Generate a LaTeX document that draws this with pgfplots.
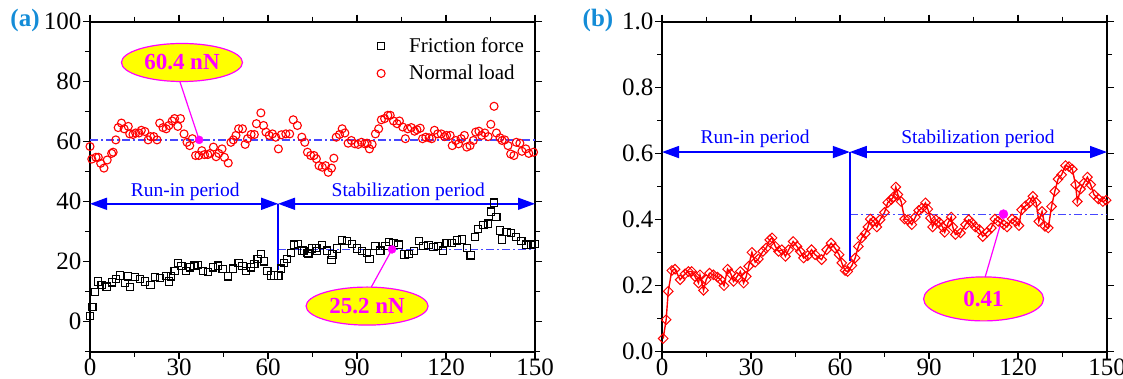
\documentclass[border=0pt]{standalone}
\usepackage{fontspec}
\setmainfont{Liberation Serif}
\usepackage{pgfplots}
\pgfplotsset{compat=1.18}
\usetikzlibrary{arrows.meta,shapes.geometric}

\definecolor{ablue}{RGB}{0,0,255}
\definecolor{dblue}{RGB}{70,70,255}
\definecolor{mag}{RGB}{255,0,255}
\definecolor{lbl}{RGB}{20,140,215}
\definecolor{yel}{RGB}{255,255,0}

\pgfplotsset{
 myaxis/.style={
  scale only axis, width=445pt, height=330pt, anchor=south west,
  xmin=0, xmax=150, xtick={0,30,...,150}, minor xtick={15,45,...,135},
  tick align=outside, tick pos=both, xticklabel pos=lower, yticklabel pos=left,
  major tick length=7pt, minor tick length=5pt,
  axis line style={line width=2pt},
  tick style={line width=1.5pt, black},
  ticklabel style={font=\fontsize{25}{29}\selectfont, inner sep=1.5pt},
  xticklabel style={yshift=1.5pt},
  /pgf/number format/assume math mode=true,
 },
 dd/.style={dblue, line width=1.5pt, dash pattern=on 8pt off 3pt on 2pt off 3pt},
}
\tikzset{
 arr/.style={ablue, line width=1.6pt, {Triangle[length=17pt,width=12pt]}-{Triangle[length=17pt,width=12pt]}},
 atxt/.style={ablue, anchor=base, font=\fontsize{19.5}{22}\selectfont},
 ell/.style={ellipse, draw=mag, fill=yel, line width=1.2pt, inner sep=0pt, text=mag, font=\fontsize{23}{27}\selectfont\bfseries},
}

\begin{document}
\begin{tikzpicture}
\useasboundingbox (0,0) rectangle (1123pt,379pt);

% ---------------- (a) ----------------
\begin{axis}[myaxis, at={(90pt,27.3pt)},
  ymin=-10, ymax=100, ytick={0,20,...,100}, minor ytick={-10,10,...,90},
  legend style={draw=none, fill=none, at={(0.638,0.963)}, anchor=north west,
    font=\fontsize{21}{25}\selectfont, row sep=7pt},
  legend cell align=left,
  legend image code/.code={\path[#1] plot coordinates {(0pt,0pt)}; \path[draw=none, fill=none] (-4pt,0pt) -- (26pt,0pt);}]
\addplot[only marks, mark=square, mark size=3.6pt, black, mark options={line width=1.1pt}] coordinates {
(0,2)(0.8,5)(1.7,9.8)(2.8,13.4)(3.9,12.3)(5.6,11.7)(7.3,13.1)(8.7,14.3)(10,15.4)(11.7,12.9)(12.9,15.1)(13.4,11.5)(15.1,14.8)(16.8,14.3)(18.5,13.4)(20.4,12.3)(21.8,14.8)(23.5,14.5)(25.7,15.3)(26.6,13.4)(27.4,15.1)(28.5,17)(29.6,19.6)(30.8,18.5)(32.4,17)(33.6,18.1)(35.2,18.7)(36.3,18.8)(38,16.8)(39.7,16.5)(41.4,18.1)(43.1,18.7)(44.7,17.6)(46.4,15.1)(48.1,17.7)(50.1,19.6)(51.4,18.5)(52.6,17)(54.3,18.1)(55.4,19.2)(56.5,21)(57.6,22.6)(58.7,20.1)(59.8,16.8)(61,15.4)(62.1,15.4)(63.5,15.4)(64.3,17.7)(65.4,19.6)(66.5,21)(67.7,22.9)(68.8,25.7)(70.2,25.9)(71.6,23.7)(72.1,23.5)(73.3,22.9)(73.6,22.6)(74.9,24.4)(76.3,24.6)(76.6,23.5)(78.3,25.5)(80,23.7)(81.4,20.5)(81.7,22.4)(83.3,24.4)(85,27.1)(86.7,26.8)(88.4,25.9)(90,24.4)(91.7,23.5)(93.4,22.9)(94.2,21)(96.2,25.2)(97.9,23.7)(99.6,25.2)(100.7,26.6)(102.3,26.3)(104,25.7)(106,22.4)(107.4,22.6)(109.1,23.5)(111,26.8)(112.4,25.2)(114.1,25.5)(115.8,24.8)(117.4,25.2)(119.1,23.7)(120.2,26.3)(121.9,26.3)(123.6,27.1)(125.3,27.4)(127,24.6)(128.3,22.1)(129.7,28.2)(130.9,30.8)(132.6,32.2)(134.2,32.7)(135.1,36.7)(136.2,39.7)(137,34.9)(138.1,30.4)(138.9,27.4)(140.4,30)(142,29.6)(143.7,28.2)(145.4,26.8)(147.1,25.7)(148.8,25.5)(150,25.8)
};
\addlegendentry{Friction force}
\addplot[only marks, mark=o, mark size=4pt, red, mark options={line width=1.1pt}] coordinates {
(0,58.4)(0.6,54.2)(2,54.8)(2.8,54.8)(3.6,52.8)(4.7,51.2)(5.8,53.9)(7.3,56.1)(7.8,56.5)(8.7,60.6)(9.5,64.7)(10.6,66.2)(11.5,64.3)(12.9,65.1)(13.4,62.6)(14.5,62.4)(15.4,62.9)(16.5,62.9)(17.3,63.8)(18.5,63.4)(19.6,60.6)(20.4,61.7)(21.5,61.7)(22.6,60.6)(23.5,66.2)(24.6,64.7)(25.7,64.3)(26.6,65.4)(27.7,66.9)(28.5,67.7)(29.6,65.1)(30.5,67.7)(31.7,62.6)(32.7,59.8)(33.6,58.7)(34.5,61)(35.6,55.4)(36.7,55.4)(37.7,57)(38.6,55.7)(39.7,55.7)(40.5,56.1)(41.6,58.2)(42.5,55)(43.4,56.1)(44.5,57.6)(45.3,54.8)(46.6,52.9)(47.5,59.8)(48.3,60.6)(49.2,62.1)(50.1,64.3)(51.4,64.3)(52.3,59.1)(53.1,61)(54.3,62.4)(55.4,62.4)(56.1,66)(57.6,69.6)(58.5,65.4)(59.3,63.2)(60.4,62.1)(61.5,62.6)(62.6,61.5)(63.5,57.6)(64.5,62.3)(66,62.6)(67.3,62.6)(68.5,67.3)(69.9,65.4)(71.4,61.5)(72.4,59.8)(73.3,56.5)(74.4,55.4)(75.5,55.4)(76.3,54.3)(77.2,52)(78.3,51.5)(79.4,52)(80.3,49.8)(81.4,51.2)(82.2,54.5)(83,61.5)(84.1,62.4)(85,64.3)(85.9,62.9)(87,59.5)(88.1,60.4)(89.3,59.3)(90.4,59.1)(91.5,59.8)(92.6,59.3)(93.4,59.5)(94.2,57.6)(95.1,59.1)(96.2,62.6)(97.3,64.3)(98.2,67.3)(99.3,67.7)(100.4,68.8)(101.2,68.8)(102.3,66.9)(103.5,66)(104.3,66.9)(105.4,64.9)(106.3,61)(107.1,64.3)(108.3,64.7)(109.4,63.5)(110.2,64)(111.3,64.5)(112.1,61)(113.2,61.5)(114.3,61.3)(115.2,61)(116.1,63.8)(117.2,62.6)(118.4,62.6)(119.5,61.7)(120.2,62.1)(121.4,62.1)(122.1,58.7)(123.3,60.4)(124.2,59.3)(125.1,61)(126.2,62.1)(127,58.2)(128.1,58.7)(129.2,60.4)(130,63.2)(131.1,63.5)(132,62.1)(133.1,62.9)(134.2,61.7)(135.1,65.8)(136.2,71.8)(137,62.9)(138.2,61.3)(138.9,60.4)(139.8,60.6)(140.9,58.7)(141.8,55.9)(142.9,55.4)(143.7,59.8)(144.9,59.5)(145.6,56.8)(146.9,57.6)(147.9,56.1)(149.5,56.5)
};
\addlegendentry{Normal load}
% reference lines
\addplot[dd, forget plot] coordinates {(0,60.6)(150,60.6)};
\addplot[dd, forget plot] coordinates {(63.4,24.1)(150,24.1)};
\addplot[ablue, line width=2pt, forget plot] coordinates {(63.4,39.3)(63.4,17.2)};
\draw[arr] (axis cs:0,39.3) -- (axis cs:63.4,39.3);
\draw[arr] (axis cs:63.4,39.3) -- (axis cs:150,39.3);
\node[atxt] at (axis cs:32.1,41.7) {Run-in period};
\node[atxt] at (axis cs:107.3,41.7) {Stabilization period};
% callouts
\draw[mag, line width=1.2pt] (axis cs:36.8,60.6) -- (axis cs:30.3,80);
\draw[mag, line width=1.2pt] (axis cs:101.8,24.1) -- (axis cs:94.8,11.5);
\addplot[only marks, mark=*, mark size=4pt, mag, forget plot] coordinates {(36.8,60.6)(101.8,24.1)};
\node[ell, minimum width=121pt, minimum height=38pt] at (axis cs:31,86.4) {60.4 nN};
\node[ell, minimum width=122pt, minimum height=38pt] at (axis cs:93.4,5.2) {25.2 nN};
\end{axis}

% ---------------- (b) ----------------
\begin{axis}[myaxis, at={(662pt,27.3pt)},
  ymin=0, ymax=1, ytick={0,0.2,0.4,0.6,0.8,1}, minor ytick={0.1,0.3,0.5,0.7,0.9},
  yticklabel style={/pgf/number format/.cd, fixed, fixed zerofill, precision=1}]
\addplot[red, line width=1.4pt, mark=square, mark size=3.4pt, mark options={solid, rotate=45, line width=1pt, fill=none}] coordinates {
(0.4,0.04)(1.4,0.097)(2.1,0.183)(3.3,0.246)(4.4,0.25)(6.1,0.218)(7.8,0.236)(8.9,0.243)(10,0.243)(11.1,0.228)(12.3,0.208)(12.8,0.233)(14,0.186)(14.9,0.218)(16,0.238)(17.3,0.233)(18.7,0.226)(19.8,0.218)(20.9,0.2)(22.1,0.25)(23.2,0.236)(24.1,0.213)(25.2,0.226)(26.4,0.243)(27.5,0.208)(28.4,0.228)(29.2,0.259)(30.3,0.301)(31.4,0.271)(32.5,0.281)(34,0.304)(35.1,0.314)(36.3,0.339)(37.1,0.345)(38.2,0.319)(39.3,0.304)(40.4,0.309)(41.6,0.289)(42.7,0.309)(44.2,0.334)(45.5,0.319)(46.6,0.304)(47.7,0.284)(49.1,0.291)(50.4,0.309)(51.6,0.294)(53.8,0.279)(55.5,0.309)(57,0.329)(58.3,0.314)(59.7,0.294)(60.6,0.269)(61.7,0.246)(62.6,0.243)(64,0.261)(65.1,0.284)(66.2,0.319)(67.3,0.345)(68.5,0.358)(69.4,0.378)(70.2,0.402)(71.3,0.395)(72.4,0.378)(73.5,0.4)(75,0.422)(76.1,0.452)(77.3,0.461)(78,0.469)(78.8,0.499)(79.5,0.476)(80.6,0.455)(81.8,0.402)(82.9,0.4)(84.2,0.385)(85.4,0.408)(86.5,0.428)(87.6,0.435)(88.8,0.451)(89.6,0.432)(90.5,0.405)(91.2,0.378)(92.3,0.4)(93.5,0.392)(94.6,0.378)(95.3,0.362)(96.4,0.39)(97.5,0.408)(98,0.378)(98.9,0.355)(100.6,0.36)(102.3,0.385)(103.4,0.4)(104.5,0.39)(105.6,0.378)(107,0.37)(108.1,0.349)(109.6,0.362)(111,0.375)(112.2,0.402)(113.3,0.395)(115.2,0.385)(116.3,0.378)(118,0.402)(119.2,0.395)(120.3,0.382)(121.2,0.43)(122.5,0.442)(123.9,0.452)(125,0.471)(126.1,0.452)(127,0.395)(128.1,0.425)(129.1,0.38)(130.2,0.375)(131.3,0.44)(132.4,0.486)(133.5,0.523)(134.7,0.536)(136,0.564)(137.2,0.561)(138.3,0.553)(139.4,0.506)(140,0.455)(141.1,0.493)(142.2,0.511)(143.4,0.529)(144.5,0.506)(145.6,0.476)(147.1,0.463)(148.6,0.455)(149.7,0.459)
};
\addplot[dd, forget plot] coordinates {(63.3,0.416)(150,0.416)};
\addplot[ablue, line width=2pt, forget plot] coordinates {(63.3,0.605)(63.3,0.274)};
\draw[arr] (axis cs:0,0.605) -- (axis cs:63.3,0.605);
\draw[arr] (axis cs:63.3,0.605) -- (axis cs:150,0.605);
\node[atxt] at (axis cs:31.4,0.632) {Run-in period};
\node[atxt] at (axis cs:106.5,0.632) {Stabilization period};
\draw[mag, line width=1.2pt] (axis cs:115.1,0.417) -- (axis cs:108.4,0.21);
\addplot[only marks, mark=*, mark size=4.5pt, mag, forget plot] coordinates {(115.1,0.417)};
\node[ell, minimum width=120pt, minimum height=44pt] at (axis cs:108.4,0.16) {0.41};
\end{axis}

\node[lbl, font=\fontsize{25}{30}\selectfont\bfseries] at (25pt,359pt) {(a)};
\node[lbl, font=\fontsize{25}{30}\selectfont\bfseries] at (598pt,359pt) {(b)};
\end{tikzpicture}
\end{document}
